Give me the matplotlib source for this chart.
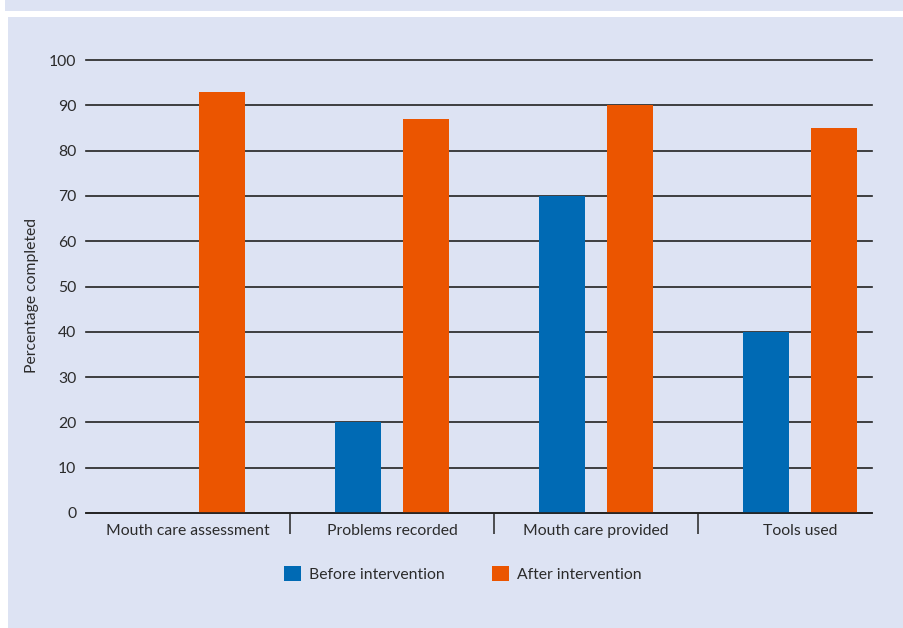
import matplotlib.pyplot as plt
from matplotlib.patches import Rectangle
import numpy as np

categories = ["Mouth care assessment", "Problems recorded", "Mouth care provided", "Tools used"]
before = [0, 20, 70, 40]
after = [93, 87, 90, 85]
series_labels = ["Before intervention", "After intervention"]

bg = "#dde3f3"
blue = "#006ab4"
orange = "#eb5500"
text_col = "#2b2b2b"

plt.rcParams['font.family'] = ['Lato', 'DejaVu Sans']
fs = 11.3

W, H = 904, 628
fig = plt.figure(figsize=(W / 100, H / 100), dpi=100, facecolor="white")

# background panel and top strip (figure pixel coords)
fig.patches.append(Rectangle((8 / W, 0), 1 - 8 / W, (H - 17) / H, transform=fig.transFigure,
                             facecolor=bg, edgecolor="none", zorder=-10))
fig.patches.append(Rectangle((5 / W, (H - 11) / H), 1, 11 / H, transform=fig.transFigure,
                             facecolor=bg, edgecolor="none", zorder=-10))

ax = fig.add_axes([86 / W, (H - 513) / H, (872 - 86) / W, (513 - 60) / H])
ax.set_facecolor("none")

x = np.arange(len(categories))
off = 34 / 204
width = 46 / 204
ax.bar(x - off, before, width, color=blue, label=series_labels[0], zorder=3)
ax.bar(x + off, after, width, color=orange, label=series_labels[1], zorder=3)

ax.set_ylim(0, 100)
ax.set_xlim(-0.5, 3.5 - 30 / 204)
ax.set_yticks(range(0, 101, 10))
ax.yaxis.grid(True, color="#222222", linewidth=1.2, zorder=1)
ax.set_axisbelow(True)
for gl in ax.yaxis.get_gridlines():
    gl.set_clip_on(False)

for s in ["top", "right", "left"]:
    ax.spines[s].set_visible(False)
ax.spines["bottom"].set_color("#222222")
ax.spines["bottom"].set_linewidth(1.2)
ax.spines["bottom"].set_zorder(4)

ax.tick_params(axis="y", length=0, pad=7, labelsize=fs, labelcolor=text_col)
ax.set_xticks(x)
ax.set_xticklabels(categories)
ax.tick_params(axis="x", which="major", length=0, pad=8, labelsize=fs, labelcolor=text_col)
ax.set_xticks([0.5, 1.5, 2.5], minor=True)
ax.tick_params(axis="x", which="minor", length=15, width=1.2, color="#333333", direction="out")

ax.set_ylabel("Percentage completed", fontsize=fs, color=text_col)
ax.yaxis.set_label_coords(-0.06, 0.48)

ax.legend(loc="center", bbox_to_anchor=(463 / W, (H - 574) / H), bbox_transform=fig.transFigure,
          ncol=2, frameon=False, fontsize=fs, handlelength=1.1, handleheight=1.1,
          handletextpad=0.5, columnspacing=3.0, labelcolor=text_col)

fig.savefig("out.png", dpi=100, facecolor=fig.get_facecolor())
